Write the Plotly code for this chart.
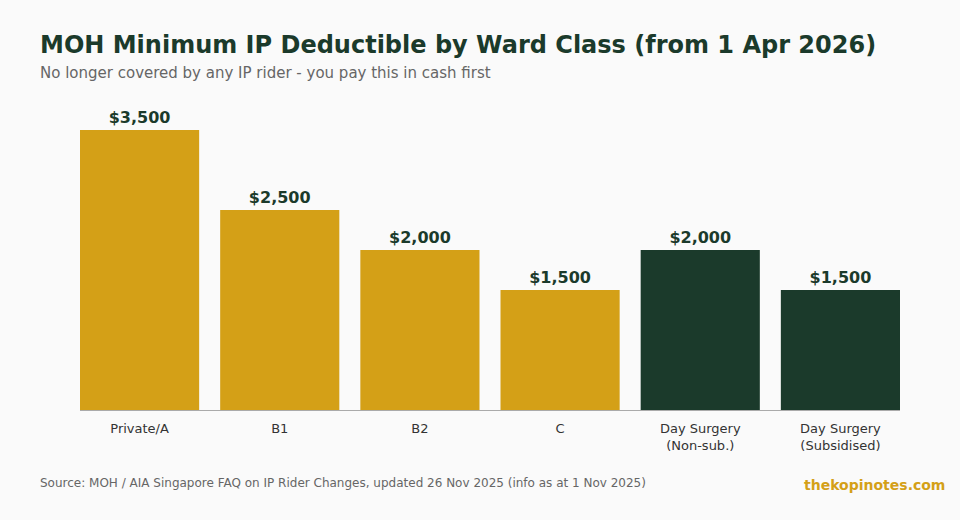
import plotly.graph_objects as go

categories = ["Private/A", "B1", "B2", "C", "Day Surgery<br>(Non-sub.)", "Day Surgery<br>(Subsidised)"]
values = [3500, 2500, 2000, 1500, 2000, 1500]
labels = ["$3,500", "$2,500", "$2,000", "$1,500", "$2,000", "$1,500"]
bar_colors = ["#D4A017", "#D4A017", "#D4A017", "#D4A017", "#1B3A2B", "#1B3A2B"]

fig = go.Figure(go.Bar(
    x=categories, y=values, text=labels, textposition="outside",
    textfont=dict(family="DejaVu Sans", size=16, color="#1B3A2B", weight="bold"),
    marker=dict(color=bar_colors, line=dict(width=0)),
    cliponaxis=False, hoverinfo="skip",
))

fig.update_layout(
    width=960, height=520,
    paper_bgcolor="#FAFAFA", plot_bgcolor="#FAFAFA",
    margin=dict(l=80, r=60, t=90, b=110),
    bargap=0.15,
    showlegend=False,
    font=dict(family="DejaVu Sans", color="#333333"),
    xaxis=dict(showgrid=False, showline=True, linecolor="#AAAAAA", linewidth=1,
               range=[-0.425, 5.425], ticklabelstandoff=6,
               ticks="", tickfont=dict(size=13, color="#333333"), fixedrange=True),
    yaxis=dict(range=[0, 4000], visible=False, showgrid=False, zeroline=False, fixedrange=True),
    annotations=[
        dict(text="<b>MOH Minimum IP Deductible by Ward Class (from 1 Apr 2026)</b>",
             xref="paper", yref="paper", x=0, y=1, xanchor="left", yanchor="middle",
             xshift=-42, yshift=90 - 45, showarrow=False,
             font=dict(size=24, color="#1B3A2B")),
        dict(text="No longer covered by any IP rider - you pay this in cash first",
             xref="paper", yref="paper", x=0, y=1, xanchor="left", yanchor="middle",
             xshift=-42, yshift=90 - 73, showarrow=False,
             font=dict(size=15, color="#666666")),
        dict(text="Source: MOH / AIA Singapore FAQ on IP Rider Changes, updated 26 Nov 2025 (info as at 1 Nov 2025)",
             xref="paper", yref="paper", x=0, y=0, xanchor="left", yanchor="middle",
             xshift=-42, yshift=410 - 483, showarrow=False,
             font=dict(size=12, color="#666666")),
        dict(text="<b>thekopinotes.com</b>",
             xref="paper", yref="paper", x=1, y=0, xanchor="right", yanchor="middle",
             xshift=47, yshift=410 - 485, showarrow=False,
             font=dict(size=14, color="#D4A017")),
    ],
)

fig.write_html("out.html", config={"displayModeBar": False},
               post_script="document.body.style.margin='0';document.body.style.background='#FAFAFA';")
